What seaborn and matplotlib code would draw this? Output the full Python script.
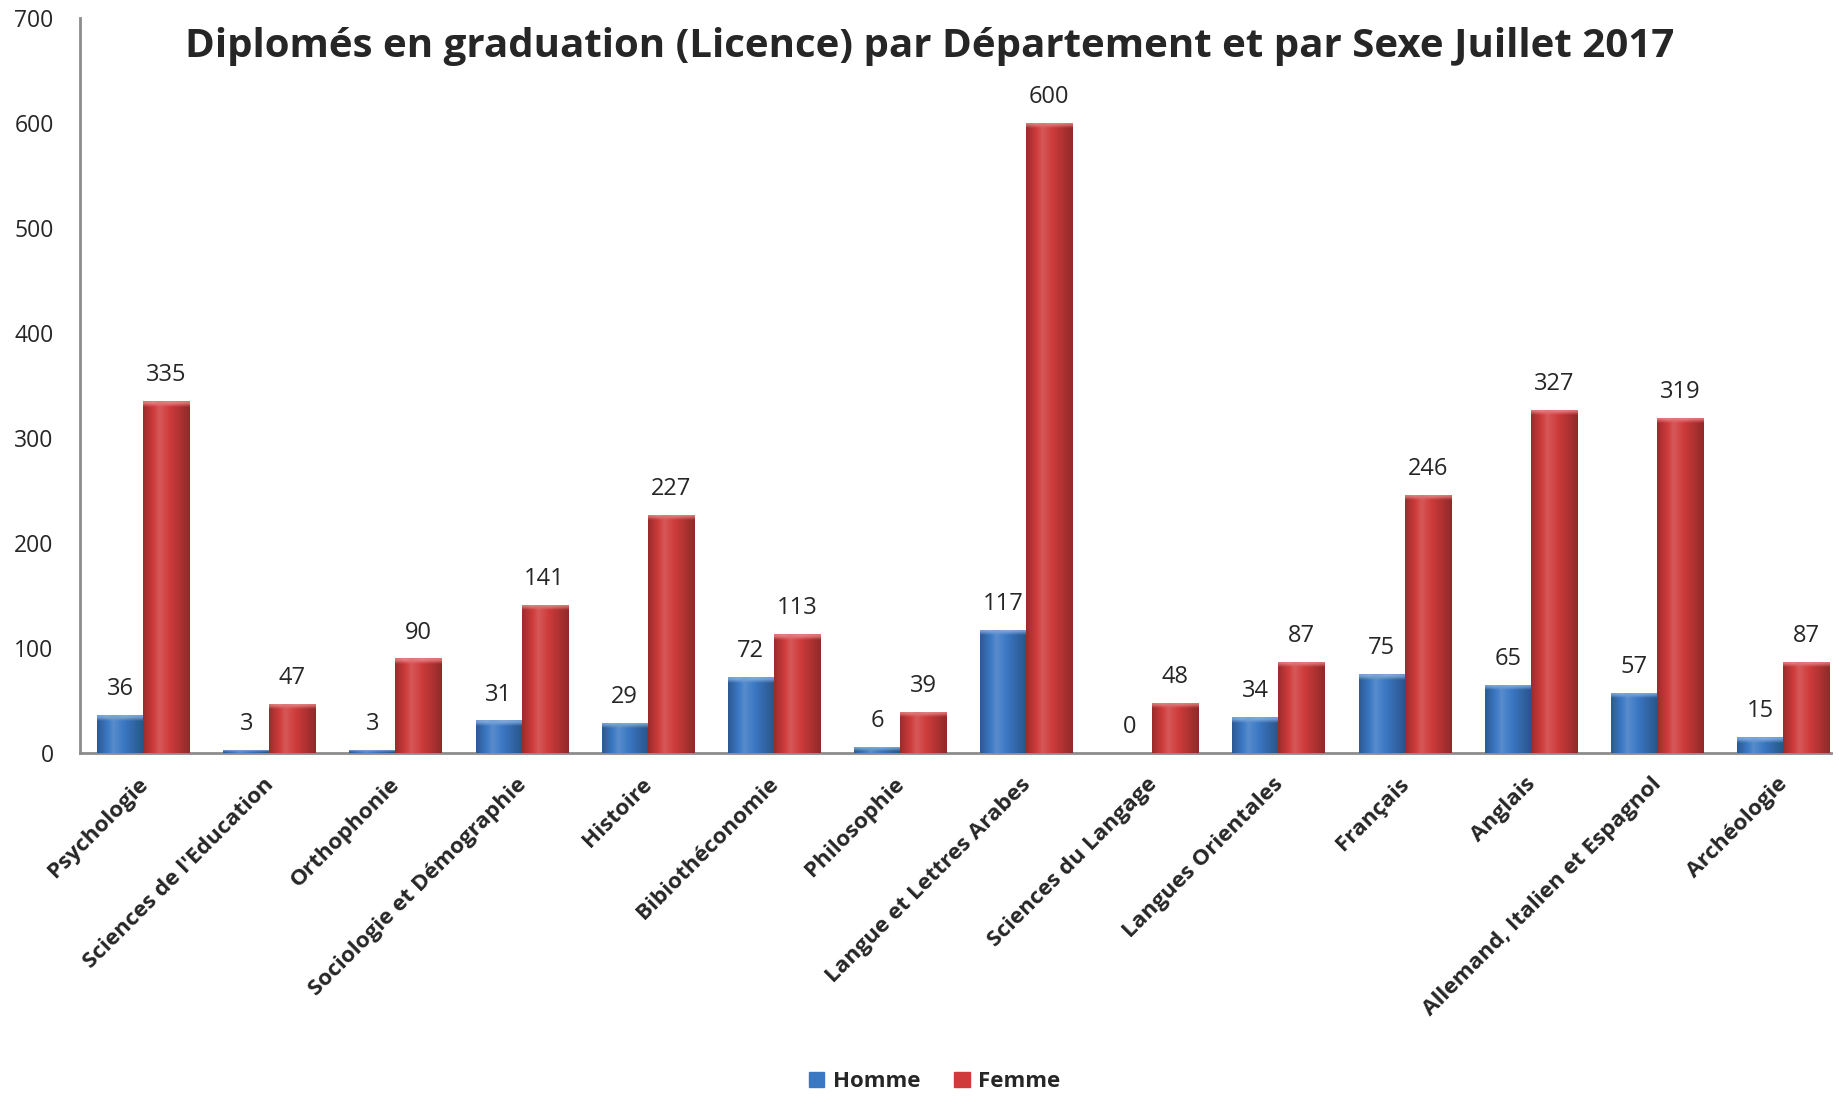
import numpy as np
import pandas as pd
import matplotlib
matplotlib.use("Agg")
import matplotlib.pyplot as plt
import matplotlib.transforms as mtransforms
import seaborn as sns

# valeurs
departements = ["Psychologie", "Sciences de l'Education", "Orthophonie",
                "Sociologie et Démographie", "Histoire", "Bibiothéconomie",
                "Philosophie", "Langue et Lettres Arabes", "Sciences du Langage",
                "Langues Orientales", "Français", "Anglais",
                "Allemand, Italien et Espagnol", "Archéologie"]
homme = [36, 3, 3, 31, 29, 72, 6, 117, 0, 34, 75, 65, 57, 15]
femme = [335, 47, 90, 141, 227, 113, 39, 600, 48, 87, 246, 327, 319, 87]
sexes = ["Homme", "Femme"]
y_ticks = [0, 100, 200, 300, 400, 500, 600, 700]

df = pd.DataFrame({
    "Departement": departements * 2,
    "Sexe": ["Homme"] * len(homme) + ["Femme"] * len(femme),
    "Diplomes": homme + femme,
})

sns.set_style("white")
plt.rcParams["font.family"] = ["Open Sans", "DejaVu Sans"]

colors = {"Homme": "#3B78C4", "Femme": "#CF3B3B"}

fig = plt.figure(figsize=(18.4, 10.96), dpi=100)
ax = fig.add_axes([0.0435, 0.313, 0.9516, 0.6706])

sns.barplot(data=df, x="Departement", y="Diplomes", hue="Sexe",
            hue_order=sexes, palette=colors, width=0.73, ax=ax,
            edgecolor="none", legend=True)

ax.set_xlim(-0.5, 13.38)
ax.set_ylim(0, 700)
ax.set_yticks(y_ticks)
ax.set_yticklabels([str(v) for v in y_ticks], fontsize=16.5)
ax.tick_params(axis="y", length=0, pad=19)
ax.tick_params(axis="x", length=0, pad=15)
ax.set_xlabel("")
ax.set_ylabel("")
shift = mtransforms.ScaledTranslation(-6 / 100, 0, fig.dpi_scale_trans)
for lab in ax.get_xticklabels():
    lab.set_rotation(45)
    lab.set_ha("right")
    lab.set_rotation_mode("anchor")
    lab.set_fontsize(16.2)
    lab.set_fontweight("bold")
    lab.set_transform(lab.get_transform() + shift)

for s in ["top", "right"]:
    ax.spines[s].set_visible(False)
for s in ["left", "bottom"]:
    ax.spines[s].set_color("#8C8C8C")
    ax.spines[s].set_linewidth(2)


def shade(hex_color, f):
    c = np.array(matplotlib.colors.to_rgb(hex_color))
    if f >= 0:
        return c + (1 - c) * f
    return c * (1 + f)


# effet de relief : degrade horizontal + biseau en haut
for container, sexe in zip(ax.containers, sexes):
    base = colors[sexe]
    for bar in container.patches:
        h = bar.get_height()
        if h <= 0:
            continue
        x0 = bar.get_x()
        w = bar.get_width()
        t = np.linspace(0, 1, 60)
        prof = np.where(t < 0.35, -0.25 + 0.4 * t / 0.35,
                        0.15 - 0.45 * (t - 0.35) / 0.65)
        img = np.array([shade(base, p) for p in prof])[None, :, :]
        im = ax.imshow(img, extent=[x0, x0 + w, 0, h], aspect="auto",
                       zorder=3, interpolation="bicubic")
        im.set_clip_path(bar)
        bev = min(7, h)
        top = np.array([shade(base, 0.35 - 0.3 * abs(p)) for p in prof])
        img2 = np.stack([top, np.array([shade(base, p) for p in prof])])
        im2 = ax.imshow(img2, extent=[x0, x0 + w, h - bev, h], aspect="auto",
                        zorder=3, interpolation="bilinear")
        im2.set_clip_path(bar)

for container in ax.containers:
    ax.bar_label(container, labels=[str(int(v)) for v in container.datavalues],
                 padding=10, fontsize=17)

ax.legend_.remove()
handles = [plt.Rectangle((0, 0), 1, 1, color=colors[s]) for s in sexes]
fig.legend(handles, sexes, loc="center", bbox_to_anchor=(0.508, 0.013),
           ncol=2, frameon=False, prop={"weight": "bold", "size": 16},
           handlelength=0.7, handleheight=0.7, columnspacing=1.5,
           handletextpad=0.4)

fig.text(0.505, 0.958,
         "Diplomés en graduation (Licence) par Département et par Sexe Juillet 2017",
         ha="center", va="center", fontsize=29, fontweight="bold")

fig.savefig("out.png", dpi=100)
